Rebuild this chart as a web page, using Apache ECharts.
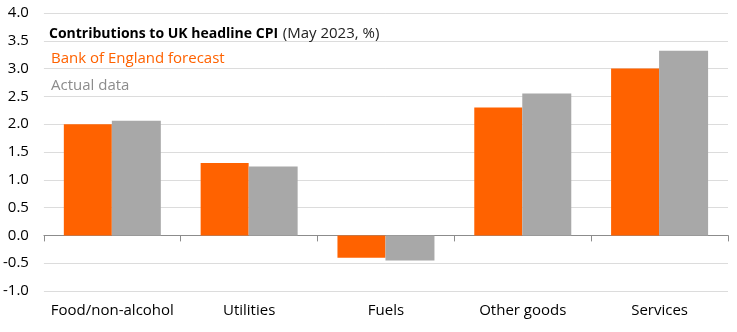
<!DOCTYPE html>
<html><head><meta charset="utf-8">
<script src="https://cdn.jsdelivr.net/npm/echarts@6/dist/echarts.min.js"></script>
<style>html,body{margin:0;padding:0;background:#fff}#c{width:737px;height:332px}</style>
</head><body><div id="c"></div>
<script>
var categories = ['Food/non-alcohol', 'Utilities', 'Fuels', 'Other goods', 'Services'];
var forecast = [2.0, 1.3, -0.4, 2.3, 3.0];
var actual = [2.06, 1.24, -0.45, 2.55, 3.32];
var seriesNames = ['Bank of England forecast', 'Actual data'];
var FONT = 'Open Sans';
var chart = echarts.init(document.getElementById('c'), null, {renderer: 'canvas'});
chart.setOption({
  animation: false,
  textStyle: {fontFamily: FONT},
  title: {
    left: 44, top: 20,
    text: '{b|Contributions to UK headline CPI} {n|(May 2023, %)}',
    textStyle: {fontWeight: 'normal', rich: {
      b: {fontFamily: FONT, fontWeight: 'bold', fontSize: 14, color: '#000'},
      n: {fontFamily: FONT, fontWeight: 'normal', fontSize: 15, color: '#222'}
    }}
  },
  legend: {
    orient: 'vertical', left: 41, top: 46, itemGap: 12, itemWidth: 0, itemHeight: 0,
    icon: 'rect', selectedMode: false,
    data: [
      {name: seriesNames[0], textStyle: {color: '#FF6200', fontSize: 15, fontFamily: FONT}},
      {name: seriesNames[1], textStyle: {color: '#8c8c8c', fontSize: 15, fontFamily: FONT}}
    ]
  },
  grid: {left: 43, right: 9, top: 13, bottom: 41, containLabel: false},
  xAxis: [{
    type: 'category', data: categories, position: 'bottom',
    axisLine: {show: false, onZero: false}, axisTick: {show: false},
    axisLabel: {color: '#000', fontSize: 15, margin: 12, fontFamily: FONT, interval: 0}
  }, {
    type: 'category', data: categories, position: 'top',
    axisLine: {show: true, onZero: true, lineStyle: {color: '#8c8c8c', width: 1}},
    axisTick: {show: true, inside: true, length: 6, lineStyle: {color: '#8c8c8c'}},
    axisLabel: {show: false}
  }],
  yAxis: {
    type: 'value', min: -1, max: 4, interval: 0.5,
    axisLine: {show: false}, axisTick: {show: false},
    axisLabel: {color: '#000', fontSize: 15, margin: 15, fontFamily: FONT,
      formatter: function (v) { return v.toFixed(1); }},
    splitLine: {lineStyle: {color: '#dcdcdc', width: 1}}
  },
  series: [{
    name: seriesNames[0], type: 'bar', data: forecast, xAxisIndex: 0,
    barWidth: 48, barGap: '0%', itemStyle: {color: '#FF6200'}
  }, {
    name: seriesNames[1], type: 'bar', data: actual, xAxisIndex: 0,
    barWidth: 49, barGap: '0%', itemStyle: {color: '#A8A8A8'}
  }]
});
</script></body></html>
